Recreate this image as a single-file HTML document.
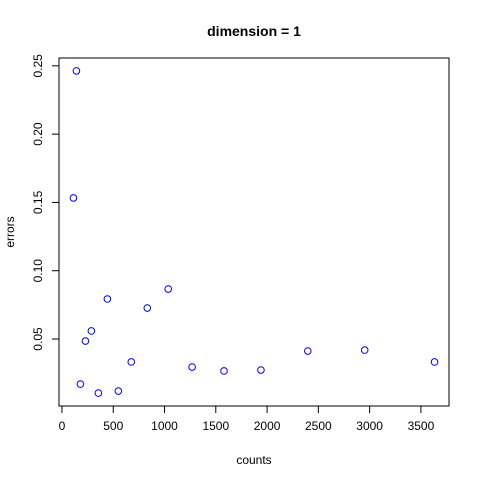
<!DOCTYPE html>
<html><head><meta charset="utf-8"><style>
body{margin:0;background:#fff;}
svg{display:block;font-family:"Liberation Sans",Arial,sans-serif;}
</style></head><body>
<svg id="chart" width="480" height="480" viewBox="0 0 480 480">
<rect width="480" height="480" fill="#fff"/>
<text x="254" y="36" text-anchor="middle" font-size="14" font-weight="bold">dimension = 1</text>
<text x="254" y="464" text-anchor="middle" font-size="12">counts</text>
<text transform="translate(14,232) rotate(-90)" text-anchor="middle" font-size="12">errors</text>
<rect x="59" y="58" width="390" height="348" fill="none" stroke="#000"/>
<g id="xaxis"></g>
<g id="yaxis"></g>
<g id="points"></g>
</svg>
<script>
const counts = [141,112,180,229,287,355,443,550,676,832,1036,1269,1580,1940,2397,2952,3633];
const errors = [0.2463,0.1533,0.017,0.0485,0.0559,0.0104,0.0793,0.0119,0.0332,0.0727,0.0866,0.0295,0.0266,0.0273,0.0412,0.0419,0.0332];
const xTicks = [0,500,1000,1500,2000,2500,3000,3500];
const yTicks = [0.05,0.10,0.15,0.20,0.25];
const yTickLabels = ["0.05","0.10","0.15","0.20","0.25"];

const ns="http://www.w3.org/2000/svg";
const L=59,R=449,T=58,B=406;
const xmin=Math.min(...counts),xmax=Math.max(...counts);
const ymin=Math.min(...errors),ymax=Math.max(...errors);
const x0=xmin-0.04*(xmax-xmin),x1=xmax+0.04*(xmax-xmin);
const y0=ymin-0.04*(ymax-ymin),y1=ymax+0.04*(ymax-ymin);
const sx=v=>L+(v-x0)/(x1-x0)*(R-L);
const sy=v=>B-(v-y0)/(y1-y0)*(B-T);
function mk(tag,attrs,parent){const e=document.createElementNS(ns,tag);for(const k in attrs)e.setAttribute(k,attrs[k]);parent.appendChild(e);return e;}
const xa=document.getElementById('xaxis'),ya=document.getElementById('yaxis'),pg=document.getElementById('points');
mk('line',{x1:sx(xTicks[0]),x2:sx(xTicks[xTicks.length-1]),y1:B,y2:B,stroke:'#000'},xa);
xTicks.forEach(t=>{
  const l=mk('line',{x1:sx(t),x2:sx(t),y1:B,y2:B+7,stroke:'#000'},xa);
  
  
  const tx=mk('text',{x:sx(t),y:B+24,'text-anchor':'middle','font-size':12},xa);
  tx.textContent=t;
  
  
});
mk('line',{x1:L,x2:L,y1:sy(yTicks[0]),y2:sy(yTicks[yTicks.length-1]),stroke:'#000'},ya);
yTicks.forEach((t,i)=>{
  const l=mk('line',{x1:L-7,x2:L,y1:sy(t),y2:sy(t),stroke:'#000'},ya);
  
  
  const tx=mk('text',{transform:`translate(${L-17},${sy(t)}) rotate(-90)`,'text-anchor':'middle','font-size':12},ya);
  tx.textContent=yTickLabels[i];
  
  
});
counts.forEach((c,i)=>{
  const p=mk('circle',{cx:sx(c),cy:sy(errors[i]),r:3.3,fill:'none',stroke:'#0000ff','stroke-width':1},pg);
  
  
});
</script>
</body></html>
